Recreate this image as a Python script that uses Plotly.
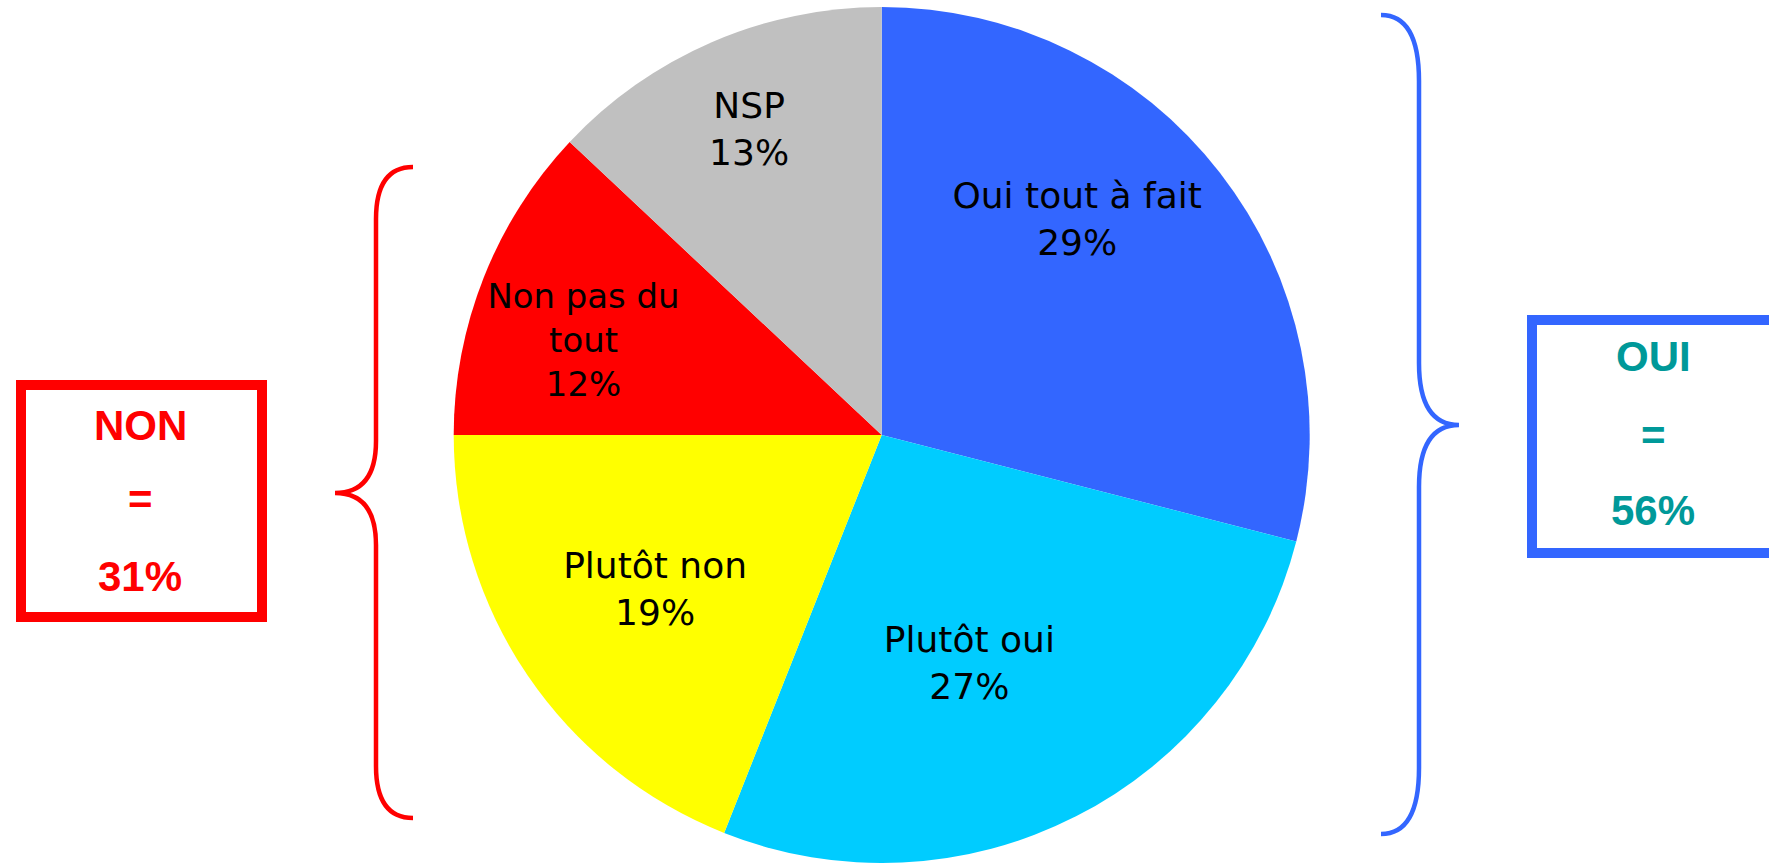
import plotly.graph_objects as go

# ---- data ----
categories = ["Oui tout à fait", "Plutôt oui", "Plutôt non", "Non pas du tout", "NSP"]
display_labels = ["Oui tout à fait", "Plutôt oui", "Plutôt non", "Non pas du<br>tout", "NSP"]
values = [29, 27, 19, 12, 13]
slice_colors = ["#3366FF", "#00CCFF", "#FFFF00", "#FF0000", "#C0C0C0"]

group_names = ["NON", "OUI"]
group_members = [["Plutôt non", "Non pas du tout"], ["Oui tout à fait", "Plutôt oui"]]
group_totals = [sum(v for c, v in zip(categories, values) if c in m) for m in group_members]

# ---- layout helpers ----
W, H = 1769, 863
PIE_TOP = 7                     # pie box starts 7 px below the top
PIE_SIZE = H - PIE_TOP          # square pie box
PIE_CX = 881.7
pie_domain = dict(x=[(PIE_CX - PIE_SIZE / 2) / W, (PIE_CX + PIE_SIZE / 2) / W],
                  y=[0, PIE_SIZE / H])


def px(x, y):
    return x / W, 1 - y / H


def brace_path(x_end, x_spine, x_tip, y_top, y_tip, y_bot, c, c2):
    def p(x, y):
        a, b = px(x, y)
        return f"{a:.5f},{b:.5f}"
    d = f"M {p(x_end, y_top)} Q {p(x_spine, y_top)} {p(x_spine, y_top + c)} "
    d += f"L {p(x_spine, y_tip - c2)} Q {p(x_spine, y_tip)} {p(x_tip, y_tip)} "
    d += f"Q {p(x_spine, y_tip)} {p(x_spine, y_tip + c2)} "
    d += f"L {p(x_spine, y_bot - c)} Q {p(x_spine, y_bot)} {p(x_end, y_bot)}"
    return d


TEXT_FONT = dict(family="DejaVu Sans", size=36, color="black")

# label layers (hole, rotation, slices labelled): the first layer draws the
# coloured slices; the others are transparent copies of the same pie whose
# hole / rotation nudge the inside label of a slice to the reference position
label_layers = [
    (0.0, 0, ["Plutôt non"]),
    (0.0, 6, ["Plutôt oui"]),
    (0.0, -4, ["Non pas du tout"]),
    (0.36, -10, ["Oui tout à fait"]),
    (0.56, 0, ["NSP"]),
]

fig = go.Figure()
for i, (hole, rot, shown) in enumerate(label_layers):
    fig.add_trace(go.Pie(
        labels=categories,
        values=values,
        text=display_labels,
        texttemplate="%{text}<br>%{value}%",
        textposition=["inside" if c in shown else "none" for c in categories],
        insidetextorientation="horizontal",
        textfont=TEXT_FONT,
        marker=dict(colors=slice_colors if i == 0 else ["rgba(0,0,0,0)"] * len(categories),
                    line=dict(width=0)),
        hole=hole,
        sort=False,
        direction="clockwise",
        rotation=rot,
        showlegend=False,
        hoverinfo="label+percent" if i == 0 else "skip",
        domain=pie_domain,
    ))

RED = "#FF0000"
BLUE = "#3366FF"
TEAL = "#009999"

shapes = []
# NON box
x0, y0 = px(21, 385)
x1, y1 = px(262, 617)
shapes.append(dict(type="rect", xref="paper", yref="paper", x0=x0, y0=y1, x1=x1, y1=y0,
                   line=dict(color=RED, width=10), fillcolor="rgba(0,0,0,0)"))
# OUI box (right side runs off the canvas)
x0, y0 = px(1532, 320)
x1, y1 = px(1776, 553)
shapes.append(dict(type="rect", xref="paper", yref="paper", x0=x0, y0=y1, x1=x1, y1=y0,
                   line=dict(color=BLUE, width=10), fillcolor="rgba(0,0,0,0)"))
# braces
shapes.append(dict(type="path", xref="paper", yref="paper",
                   path=brace_path(413, 376, 335, 167, 493, 818, 52, 52),
                   line=dict(color=RED, width=4.5)))
shapes.append(dict(type="path", xref="paper", yref="paper",
                   path=brace_path(1381, 1419, 1459, 15, 425, 834, 66, 62),
                   line=dict(color=BLUE, width=4.5)))

annotations = []
box_text = [
    (group_names[0], group_totals[0], RED, 140, (425, 499, 576)),
    (group_names[1], group_totals[1], TEAL, 1653, (356, 435, 510)),
]
for name, total, col, cx, ys in box_text:
    for txt, yy in zip([name, "=", f"{total}%"], ys):
        ax, ay = px(cx, yy)
        annotations.append(dict(x=ax, y=ay, xref="paper", yref="paper", text=f"<b>{txt}</b>",
                                showarrow=False, xanchor="center", yanchor="middle",
                                font=dict(family="Liberation Sans, Arial", size=42, color=col)))

fig.update_layout(
    width=W, height=H,
    margin=dict(l=0, r=0, t=0, b=0),
    paper_bgcolor="white",
    plot_bgcolor="white",
    shapes=shapes,
    annotations=annotations,
    showlegend=False,
)

fig.write_html("out.html", config={"displayModeBar": False},
               post_script="document.body.style.margin='0';document.body.style.overflow='hidden';")
